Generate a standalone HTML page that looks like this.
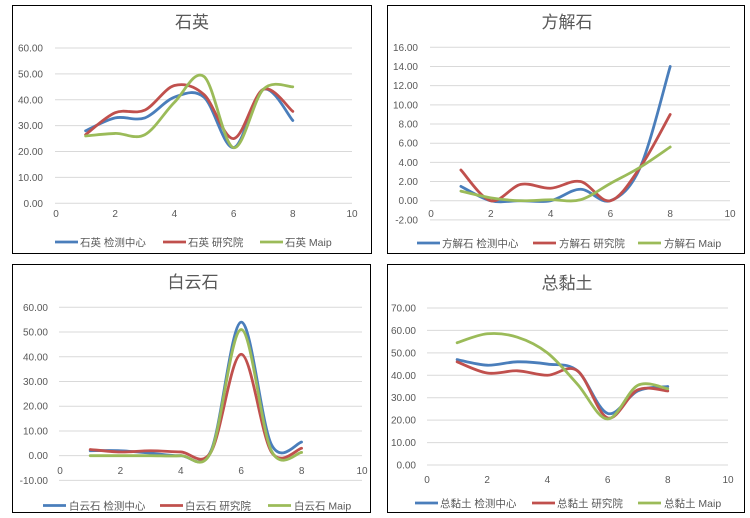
<!DOCTYPE html>
<html><head><meta charset="utf-8"><style>
html,body{margin:0;padding:0;background:#fff;}
svg{display:block;font-family:"Liberation Sans","Noto Sans CJK SC",sans-serif;}
</style></head><body>
<svg id="s" width="750" height="518" xmlns="http://www.w3.org/2000/svg"></svg>
<script>
const C=["#4a7ebb","#c0504d","#9bbb59"];
const P=[
{box:[12.5,5.5,359,248],title:"石英",ty:28,tx:192,x0:56,x10:352,gx0:55,gx1:352,ymin:0,ymax:60,step:10,py0:203.3,py1:48,yl:43,xly:217,
 ly:242,leg:[[55,80],[163,188],[260,285]],name:"石英",
 d:[[28,33,33,41,41,21.5,44,32],[26.5,35,36,45.5,42,25,44,35.5],[26,27,26.5,39,49,21.5,44,45]]},
{box:[387.5,5.5,357,248],title:"方解石",ty:28,tx:567,x0:431,x10:730,gx0:430,gx1:730,ymin:-2,ymax:16,step:2,py0:219.9,py1:47.3,yl:418,xly:217,
 ly:243,leg:[[417,442],[533,559],[638,664]],name:"方解石",
 d:[[1.5,0,0,0,1.2,0,3.5,14],[3.2,0,1.7,1.3,2,0,3.5,9],[1,0.3,0,0.1,0.1,1.8,3.5,5.6]]},
{box:[12.5,264.5,358,248],title:"白云石",ty:288,tx:193,x0:60,x10:362,gx0:59,gx1:362,ymin:-10,ymax:60,step:10,py0:480.4,py1:307.3,yl:48,xly:474,
 ly:505.5,leg:[[43,69],[160,185],[268,294]],name:"白云石",
 d:[[2,2,1,0,2,54,4.5,5.5],[2.5,1.5,2,1.5,1.5,41,1.5,3],[0,0,0,0,1.5,51,2,1.3]]},
{box:[387.5,264.5,357,248],title:"总黏土",ty:289,tx:567,x0:427,x10:728,gx0:427,gx1:728,ymin:0,ymax:70,step:10,py0:465,py1:308,yl:416,xly:483,
 ly:503,leg:[[415,440],[532,557],[638,664]],name:"总黏土",
 d:[[47,44.5,46,45,42,23,33,35],[46,41,42,40,42,21,33.5,33],[54.5,58.5,57,50,36,20.5,35.5,34]]}
];
const sf=["检测中心","研究院","Maip"];
let h="";
for(const p of P){
 const [bx,by,bw,bh]=p.box;
 h+=`<rect x="${bx}" y="${by}" width="${bw}" height="${bh}" fill="#fff" stroke="#000" stroke-width="1"/>`;
 h+=`<text x="${p.tx}" y="${p.ty}" font-size="17" fill="#595959" text-anchor="middle">${p.title}</text>`;
 const Y=v=>p.py0+(v-p.ymin)*(p.py1-p.py0)/(p.ymax-p.ymin);
 const X=v=>p.x0+v*(p.x10-p.x0)/10;
 for(let v=p.ymin;v<=p.ymax+1e-9;v+=p.step){
  const y=Y(v);
  h+=`<line x1="${p.gx0}" x2="${p.gx1}" y1="${y}" y2="${y}" stroke="#d9d9d9" stroke-width="1"/>`;
  h+=`<text x="${p.yl}" y="${y+3.5}" font-size="10" fill="#595959" text-anchor="end">${v.toFixed(2)}</text>`;
 }
 for(let v=0;v<=10;v+=2){
  h+=`<text x="${X(v)}" y="${p.xly}" font-size="10" fill="#595959" text-anchor="middle">${v}</text>`;
 }
 p.d.forEach((arr,i)=>{
  const pts=arr.map((v,k)=>[X(k+1),Y(v)]);
  let s=`M${pts[0][0]},${pts[0][1]}`;
  for(let k=0;k<pts.length-1;k++){
   const p0=pts[Math.max(k-1,0)],p1=pts[k],p2=pts[k+1],p3=pts[Math.min(k+2,pts.length-1)];
   const c1=[p1[0]+(p2[0]-p0[0])/6,p1[1]+(p2[1]-p0[1])/6];
   const c2=[p2[0]-(p3[0]-p1[0])/6,p2[1]-(p3[1]-p1[1])/6];
   s+=` C${c1[0]},${c1[1]} ${c2[0]},${c2[1]} ${p2[0]},${p2[1]}`;
  }
  h+=`<path d="${s}" fill="none" stroke="${C[i]}" stroke-width="2.8" stroke-linecap="round"/>`;
  const [lx,tx]=p.leg[i];
  h+=`<line x1="${lx}" x2="${lx+23}" y1="${p.ly}" y2="${p.ly}" stroke="${C[i]}" stroke-width="2.8"/>`;
  h+=`<text x="${tx}" y="${p.ly+4}" font-size="10.5" fill="#595959">${p.name} ${sf[i]}</text>`;
 });
}
document.getElementById("s").innerHTML=h;
</script>
</body></html>
